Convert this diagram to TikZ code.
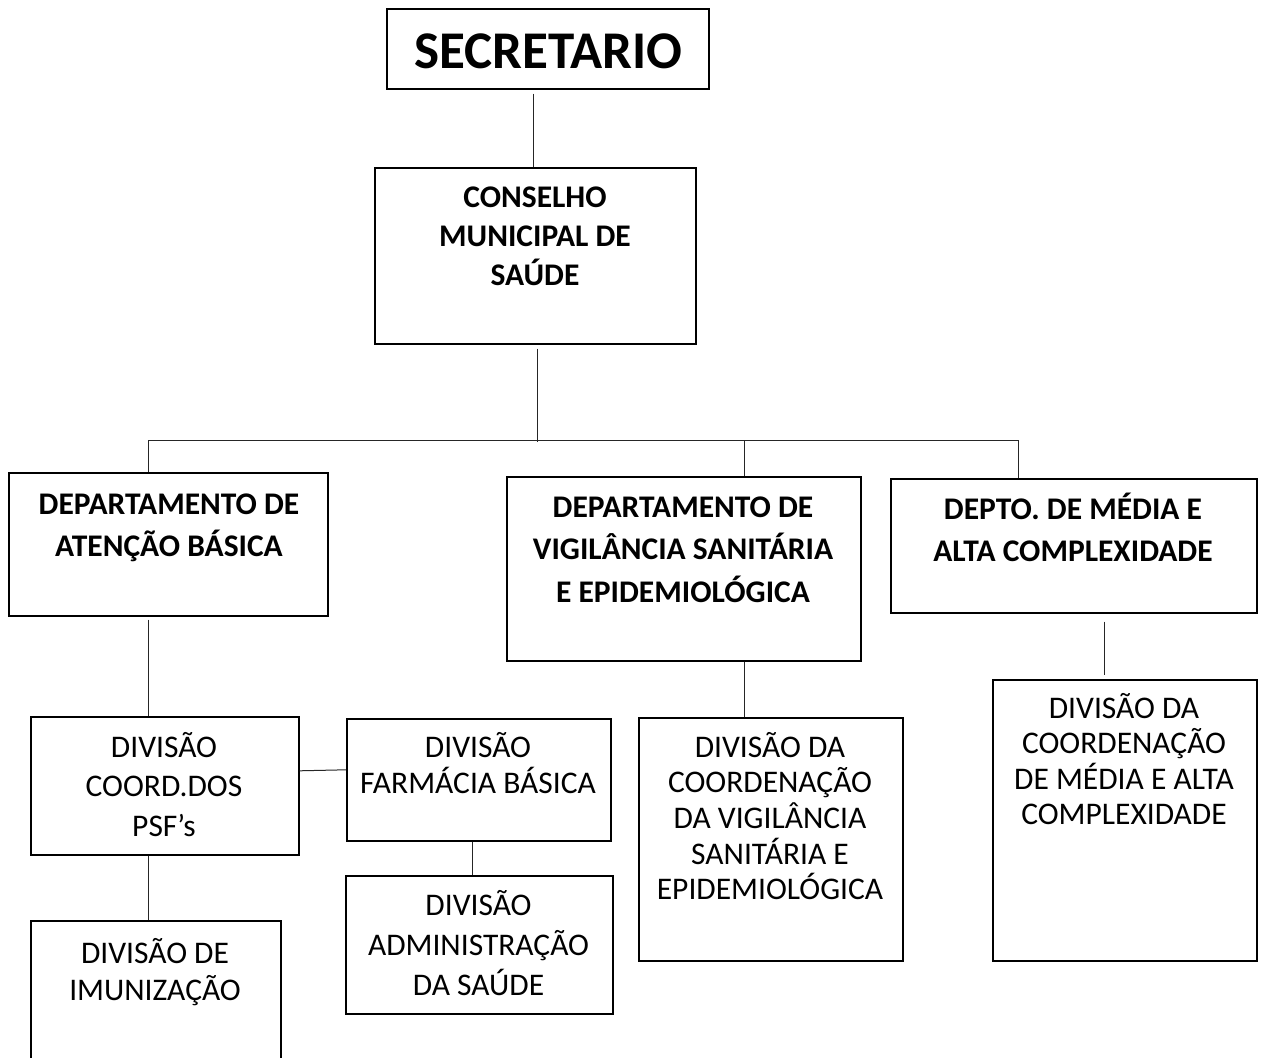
\documentclass[tikz,border=0pt]{standalone}
\usepackage{fontspec}
\setmainfont{Carlito}
\newcommand\mlines[3]{\parbox[t]{#1pt}{\centering\baselineskip=#2pt\relax #3}}
\tikzset{
  box/.style={draw=black, line width=1.6pt, rectangle, inner sep=0pt, anchor=north west},
  txt/.style={inner sep=0pt, anchor=base, font=\fontsize{31.5}{39}\selectfont},
  btxt/.style={txt, font=\fontsize{31.5}{39}\selectfont\bfseries},
  conn/.style={draw=black!85, line width=1pt}
}
\begin{document}
\begin{tikzpicture}[x=1pt,y=-1pt]
\useasboundingbox (0,0) rectangle (1263,1057);
% boxes
\node[box, minimum width=322pt, minimum height=80pt] (sec) at (386,8) {};
\node[box, minimum width=321pt, minimum height=176pt] (cms) at (374,167) {};
\node[box, minimum width=319pt, minimum height=143pt] (dA) at (8,472) {};
\node[box, minimum width=354pt, minimum height=184pt] (dV) at (506,476) {};
\node[box, minimum width=366pt, minimum height=134pt] (dM) at (890,478) {};
\node[box, minimum width=268pt, minimum height=138pt] (psf) at (30,716) {};
\node[box, minimum width=264pt, minimum height=122pt] (farm) at (346,718) {};
\node[box, minimum width=267pt, minimum height=138pt] (adm) at (345,875) {};
\node[box, minimum width=250pt, minimum height=160pt] (imu) at (30,920) {};
\node[box, minimum width=264pt, minimum height=243pt] (cvig) at (638,717) {};
\node[box, minimum width=264pt, minimum height=281pt] (dmm) at (992,679) {};
% texts
\node[inner sep=0pt, anchor=base, font=\fontsize{53}{60}\selectfont\bfseries] (sec-t) at (548,68) {SECRETARIO};
\node[btxt] (cms-t) at (535,207) {\mlines{320}{39}{CONSELHO\\MUNICIPAL DE\\SAÚDE}};
\node[btxt] (dA-t) at (169,514) {\mlines{318}{42}{DEPARTAMENTO DE\\ATENÇÃO BÁSICA}};
\node[btxt] (dV-t) at (683,517) {\mlines{352}{42.5}{DEPARTAMENTO DE\\VIGILÂNCIA SANITÁRIA\\E EPIDEMIOLÓGICA}};
\node[btxt] (dM-t) at (1073,519) {\mlines{364}{42}{DEPTO. DE MÉDIA E\\ALTA COMPLEXIDADE}};
\node[txt] (psf-t) at (164,757) {\mlines{266}{39.5}{DIVISÃO\\COORD.DOS\\PSF’s}};
\node[txt] (farm-t) at (478,757) {\mlines{262}{36}{DIVISÃO\\FARMÁCIA BÁSICA}};
\node[txt] (adm-t) at (478.5,915) {\mlines{265}{40}{DIVISÃO\\ADMINISTRAÇÃO\\DA SAÚDE}};
\node[txt] (imu-t) at (155,963) {\mlines{248}{37}{DIVISÃO DE\\IMUNIZAÇÃO}};
\node[txt] (cvig-t) at (770,757) {\mlines{262}{35.7}{DIVISÃO DA\\COORDENAÇÃO\\DA VIGILÂNCIA\\SANITÁRIA E\\EPIDEMIOLÓGICA}};
\node[txt] (dmm-t) at (1124,718) {\mlines{262}{35.5}{DIVISÃO DA\\COORDENAÇÃO\\DE MÉDIA E ALTA\\COMPLEXIDADE}};
% connector coordinates
\coordinate (barL) at (148,440);
\coordinate (barC) at (537,440);
\coordinate (barV) at (744,440);
\coordinate (barR) at (1018,440);
\coordinate (xa) at (148,0);
\coordinate (xs) at (533,0);
\coordinate (xf) at (472,0);
\coordinate (xm) at (1104,0);
% connectors
\draw[conn] ([yshift=-4pt]sec.south -| xs) -- (cms.north -| xs);
\draw[conn] ([yshift=-4pt]cms.south -| barC) -- ([yshift=-2pt]barC);
\draw[conn] (barL) -- (barR);
\draw[conn] (barL) -- (dA.north -| barL);
\draw[conn] (barV) -- (dV.north -| barV);
\draw[conn] (barR) -- (dM.north -| barR);
\draw[conn] ([yshift=-3pt]dA.south -| xa) -- (psf.north -| xa);
\draw[conn] (psf.south -| xa) -- (imu.north -| xa);
\draw[conn] ([yshift=15pt]psf.east) -- ([yshift=10pt]farm.west);
\draw[conn] (farm.south -| xf) -- (adm.north -| xf);
\draw[conn] (dV.south -| barV) -- (cvig.north -| barV);
\draw[conn] ([yshift=-8pt]dM.south -| xm) -- ([yshift=4pt]dmm.north -| xm);
\end{tikzpicture}
\end{document}
